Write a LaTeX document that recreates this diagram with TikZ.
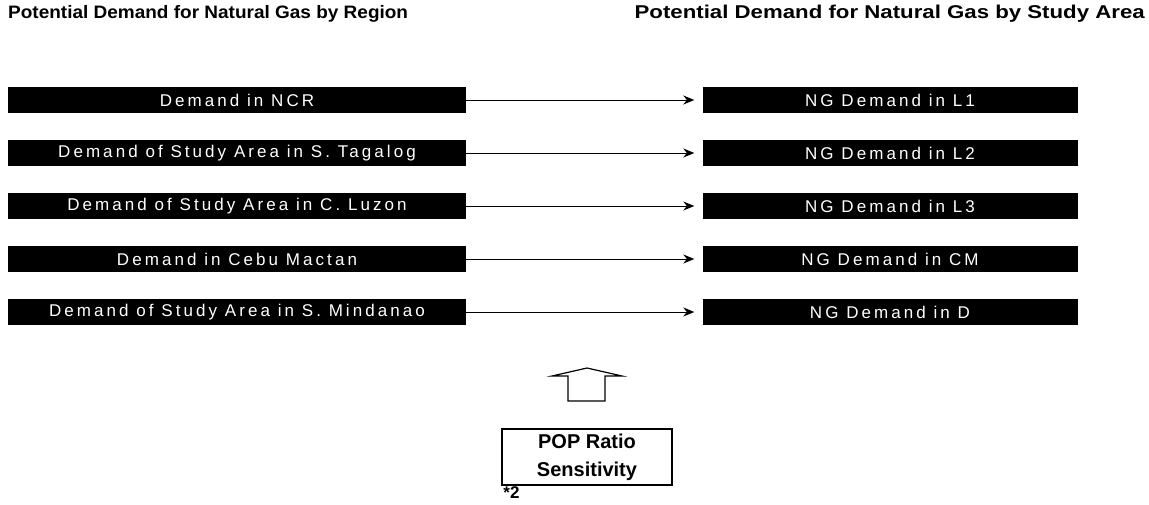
\documentclass[tikz,border=0pt]{standalone}
\usepackage{fontspec}
\setmainfont{Liberation Sans}
\newfontfamily\boxfont[LetterSpace=18]{Liberation Sans}
\usetikzlibrary{arrows.meta}
\begin{document}
\begin{tikzpicture}[x=1pt,y=-1pt,
  heading/.style={anchor=west,inner sep=0pt,font=\bfseries\fontsize{18}{20}\selectfont},
  region/.style={fill=black,text=white,minimum width=458pt,minimum height=26pt,inner sep=0pt,
    font=\boxfont\fontsize{17}{18}\selectfont},
  area/.style={fill=black,text=white,minimum width=375pt,minimum height=26pt,inner sep=0pt,
    font=\boxfont\fontsize{17}{18}\selectfont},
  link/.style={line width=0.9pt,-{Stealth[length=11pt,width=9pt]},shorten >=8pt},
  factor/.style={draw,line width=1.6pt,minimum width=170pt,minimum height=56pt,inner sep=0pt,
    align=center,font=\bfseries\fontsize{20}{28}\selectfont}]
\useasboundingbox (0,0) rectangle (1149,504);
\fill[white] (0,0) rectangle (1149,504);

% column headings
\node[heading] (hl) at (8,14) {\scalebox{1.055}[1]{Potential Demand for Natural Gas by Region}};
\node[heading,anchor=east] (hr) at (1145,14) {\scalebox{1.235}[1.03]{Potential Demand for Natural Gas by Study Area}};

% regional demand boxes
\node[region] (r1) at (237,100) {Demand in NCR};
\node[region] (r2) at (237,153) {Demand of Study Area in S. Tagalog};
\node[region] (r3) at (237,206) {Demand of Study Area in C. Luzon};
\node[region] (r4) at (237,259) {Demand in Cebu Mactan};
\node[region] (r5) at (237,312) {Demand of Study Area in S. Mindanao};

% study area demand boxes
\node[area] (a1) at (890,100) {NG Demand in L1};
\node[area] (a2) at (890,153) {NG Demand in L2};
\node[area] (a3) at (890,206) {NG Demand in L3};
\node[area] (a4) at (890,259) {NG Demand in CM};
\node[area] (a5) at (890,312) {NG Demand in D};

\foreach \i in {1,...,5}{\draw[link] (r\i) -- (a\i);}

% sensitivity factor feeding the allocation
\node[factor] (pop) at (587,457) {POP Ratio\\Sensitivity};
\node[anchor=north west,inner sep=0pt,font=\bfseries\fontsize{17}{17}\selectfont] (note) at ([xshift=2pt,yshift=-1pt]pop.south west) {*2};

% hollow block arrow
\draw[line width=1.2pt,line join=miter] (568,401) -- (568,376) -- (552,376) -- (587,368) -- (622,376) -- (605,376) -- (605,401) -- cycle;
\end{tikzpicture}
\end{document}
